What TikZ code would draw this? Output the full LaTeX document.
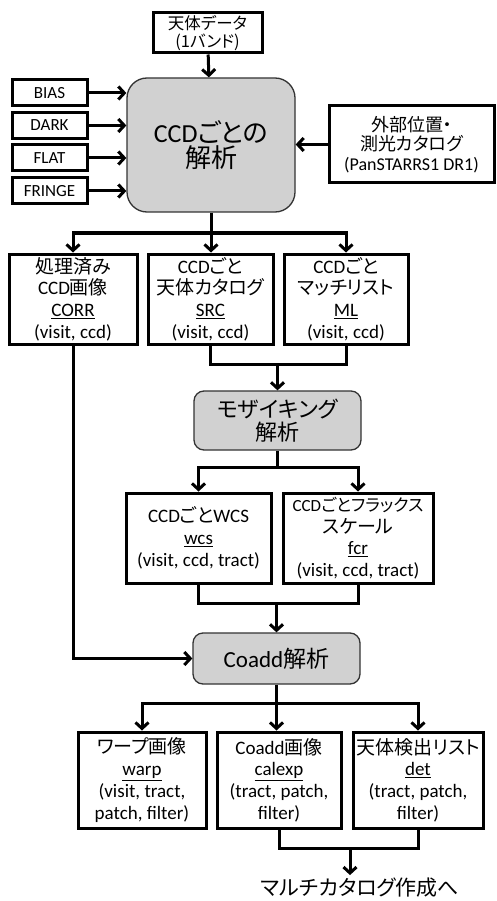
\documentclass[tikz,border=0pt]{standalone}
\usepackage{fontspec}
\setmainfont{Carlito}
\newfontfamily\jp[Scale=1.0,CharacterWidth=AlternateProportional]{Noto Sans CJK JP}
\usetikzlibrary{arrows.meta, positioning, calc}

\begin{document}
\begin{tikzpicture}[
    x=1pt, y=-1pt,
    databox/.style={rectangle, draw, line width=3pt, inner sep=0pt, align=center,
                    font=\fontsize{19}{21.7}\selectfont},       % Data product boxes
    inbox/.style={databox, minimum width=75pt, minimum height=26pt,
                  font=\fontsize{17}{20}\selectfont},            % Calibration inputs
    procbox/.style={rectangle, rounded corners=10pt, draw=black!80, line width=1.3pt,
                    fill=black!18, inner sep=0pt, align=center}, % Processing stages
    flow/.style={line width=3pt, -{Straight Barb[length=6pt, width=13pt]}},
    link/.style={line width=3pt}                                 % Plain joining lines
]
\useasboundingbox (0,0) rectangle (497,901);

% --- INPUT DATA ---
\node[databox, minimum width=109pt, minimum height=40pt, font=\fontsize{16.5}{18}\selectfont]
    (raw) at (207.5,33) {{\jp 天体データ}\\{\jp (1バンド)}};

% --- CCD PROCESSING ---
\node[procbox, rounded corners=20pt, minimum width=168pt, minimum height=134pt,
      font=\fontsize{26}{25}\selectfont]
    (ccdproc) at (211,145) {CCD{\jp ごとの}\\{\jp 解析}};

% --- CALIBRATION FRAMES ---
\node[inbox] (bias)   at (49.5,93)    {BIAS};
\node[inbox] (dark)   at (49.5,125.5) {DARK};
\node[inbox] (flat)   at (49.5,158)   {FLAT};
\node[inbox] (fringe) at (49.5,191)   {FRINGE};

% --- EXTERNAL REFERENCE CATALOG ---
\node[databox, minimum width=165pt, minimum height=77pt, font=\fontsize{18}{19.5}\selectfont]
    (refcat) at (411.5,144.5) {{\jp 外部位置・}\\{\jp 測光カタログ}\\(PanSTARRS1 DR1)};

% --- CCD PROCESSING OUTPUTS ---
\node[databox, minimum width=128pt, minimum height=90pt] (corr) at (73,299)
    {{\jp 処理済み}\\CCD{\jp 画像}\\\underline{CORR}\\(visit, ccd)};
\node[databox, minimum width=125pt, minimum height=90pt] (src) at (210.5,299)
    {CCD{\jp ごと}\\{\jp 天体カタログ}\\\underline{SRC}\\(visit, ccd)};
\node[databox, minimum width=124pt, minimum height=90pt] (ml) at (346,299)
    {CCD{\jp ごと}\\{\jp マッチリスト}\\\underline{ML}\\(visit, ccd)};

% --- MOSAICKING ---
\node[procbox, minimum width=167pt, minimum height=59pt, font=\fontsize{22}{23.5}\selectfont]
    (mosaic) at (277.5,420.5) {{\jp モザイキング}\\{\jp 解析}};

\node[databox, minimum width=145pt, minimum height=90pt] (wcs) at (198.5,538)
    {CCD{\jp ごと}WCS\\\underline{wcs}\\(visit, ccd, tract)};
\node[databox, minimum width=150pt, minimum height=90pt] (fcr) at (358,538)
    {{\fontsize{17}{21}\selectfont CCD{\jp ごとフラックス}}\\{\jp スケール}\\\underline{fcr}\\(visit, ccd, tract)};

% --- COADD ---
\node[procbox, minimum width=167pt, minimum height=51pt, font=\fontsize{23}{24}\selectfont]
    (coadd) at (276.5,658.5) {Coadd{\jp 解析}};

\node[databox, minimum width=128pt, minimum height=96pt] (warp) at (142,780)
    {{\jp ワープ画像}\\\underline{warp}\\(visit, tract,\\patch, filter)};
\node[databox, minimum width=124pt, minimum height=96pt] (calexp) at (279,780)
    {Coadd{\jp 画像}\\\underline{calexp}\\(tract, patch,\\filter)};
\node[databox, minimum width=130pt, minimum height=96pt] (det) at (418,780)
    {{\jp 天体検出リスト}\\\underline{det}\\(tract, patch,\\filter)};

\node[inner sep=3pt, font=\fontsize{21}{24}\selectfont] (multi) at (360,888)
    {\jp マルチカタログ作成へ};

% --- BRANCH AND JOIN POINTS ---
\coordinate (split1) at (211,233);
\coordinate (join1)  at (277.5,364);
\coordinate (split2) at (277.5,467);
\coordinate (join2)  at (276.5,603);
\coordinate (split3) at (276.5,703);
\coordinate (join3)  at (350,848);

% --- CONNECTIONS ---
\draw[flow] (raw) -- (ccdproc);
\foreach \cal in {bias, dark, flat, fringe}
    \draw[flow] (\cal.east) -- (\cal.east -| ccdproc.west);
\draw[flow] (refcat.west) -- (refcat.west -| ccdproc.east);

\draw[link] (ccdproc.south) -- (split1);
\draw[flow] (split1) -| (corr.north);
\draw[flow] (split1) -- (split1 |- src.north);
\draw[flow] (split1) -| (ml.north);

\draw[link] (src.south) |- (join1) -| (ml.south);
\draw[flow] (join1) -- (mosaic.north);

\draw[link] (mosaic.south) -- (split2);
\draw[flow] (split2) -| (wcs.north);
\draw[flow] (split2) -| (fcr.north);

\draw[link] (wcs.south) |- (join2) -| (fcr.south);
\draw[flow] (join2) -- (coadd.north);
\draw[flow] (corr.south) |- (coadd.west);  % CORR goes straight to coadd

\draw[link] (coadd.south) -- (split3);
\draw[flow] (split3) -| (warp.north);
\draw[flow] (split3) -- (calexp.north -| split3);
\draw[flow] (split3) -| (det.north);

\draw[link] (calexp.south) |- (join3) -| (det.south);
\draw[flow] (join3) -- (join3 |- multi.north);

\end{tikzpicture}
\end{document}
